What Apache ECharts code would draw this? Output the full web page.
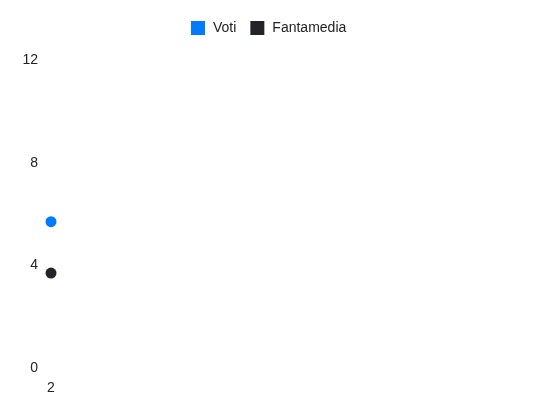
<!DOCTYPE html>
<html><head><meta charset="utf-8">
<script src="https://cdn.jsdelivr.net/npm/echarts@6/dist/echarts.min.js"></script>
<style>html,body{margin:0;padding:0;background:#fff}#c{width:550px;height:412px}</style>
</head><body><div id="c"></div>
<script>
const categories = [2];
const votiValues = [5.7];
const fantamediaValues = [3.7];
const yTicks = [0, 4, 8, 12];

const font = 'Liberation Sans, Arial, sans-serif';
const chart = echarts.init(document.getElementById('c'), null, {renderer: 'canvas'});
chart.setOption({
  animation: false,
  textStyle: {fontFamily: font},
  legend: {
    top: 16, left: 186, itemWidth: 14, itemHeight: 14, itemGap: 14,
    icon: 'rect',
    textStyle: {fontSize: 14, color: '#222', fontFamily: font, padding: [0, 0, 0, 3]},
    data: ['Voti', 'Fantamedia']
  },
  grid: {left: 51, right: 20, top: 60, bottom: 44, containLabel: false},
  xAxis: {
    type: 'value', min: categories[0], max: categories[0] + 10, interval: 10,
    axisLine: {show: false}, axisTick: {show: false}, splitLine: {show: false},
    axisLabel: {color: '#222', fontSize: 14, margin: 13, fontFamily: font, showMaxLabel: false,
      formatter: v => categories.includes(v) ? String(v) : ''}
  },
  yAxis: {
    type: 'value', min: yTicks[0], max: yTicks[yTicks.length - 1], interval: 4,
    axisLine: {show: false}, axisTick: {show: false}, splitLine: {show: false},
    axisLabel: {color: '#222', fontSize: 14, margin: 13, fontFamily: font}
  },
  series: [
    {name: 'Voti', type: 'line', data: categories.map((c, i) => [c, votiValues[i]]),
     symbol: 'circle', symbolSize: 11,
     itemStyle: {color: '#007bff'}, lineStyle: {color: '#007bff'}},
    {name: 'Fantamedia', type: 'line', data: categories.map((c, i) => [c, fantamediaValues[i]]),
     symbol: 'circle', symbolSize: 11,
     itemStyle: {color: '#212529'}, lineStyle: {color: '#212529'}}
  ]
});
</script></body></html>
